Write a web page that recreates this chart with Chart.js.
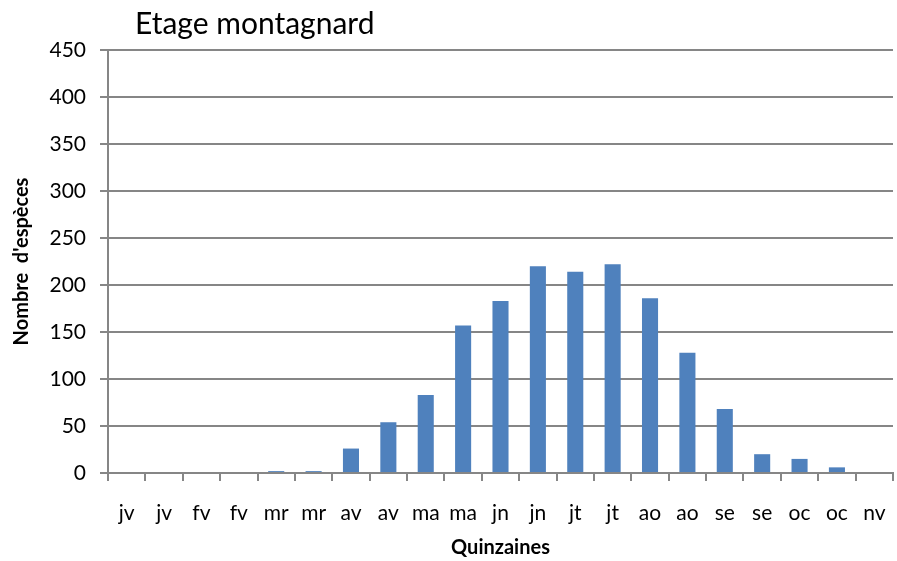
<!DOCTYPE html>
<html>
<head>
<meta charset="utf-8">
<script src="https://cdn.jsdelivr.net/npm/chart.js@4"></script>
<style>
  html, body { margin: 0; padding: 0; background: #fff; }
  #wrap { width: 897px; height: 561px; }
</style>
</head>
<body>
<div id="wrap"><canvas id="c" width="897" height="561"></canvas></div>
<script>
"use strict";

const TITLE = "Etage montagnard";
const labels = ["jv", "jv", "fv", "fv", "mr", "mr", "av", "av", "ma", "ma", "jn", "jn", "jt", "jt", "ao", "ao", "se", "se", "oc", "oc", "nv"];
const especes = [0, 0, 0, 0, 2, 2, 26, 54, 83, 157, 183, 220, 214, 222, 186, 128, 68, 20, 15, 6, 0];
const yTicks = [0, 50, 100, 150, 200, 250, 300, 350, 400, 450];

const FONT = "Lato, 'Open Sans', sans-serif";
const GRID = "#868686";

// title is drawn by hand so it can sit left of centre like the original
const titlePlugin = {
  id: "leftTitle",
  afterDraw(chart) {
    const ctx = chart.ctx;
    ctx.save();
    ctx.fillStyle = "#000";
    ctx.font = "30px " + FONT;
    ctx.textBaseline = "middle";
    ctx.fillText(TITLE, chart.chartArea.left + 27, 24);
    ctx.restore();
  },
};

new Chart(document.getElementById("c"), {
  type: "bar",
  data: {
    labels,
    datasets: [{
      data: especes,
      backgroundColor: "#4F81BD",
      barPercentage: 0.86,
      categoryPercentage: 0.5,
    }],
  },
  options: {
    responsive: false,
    animation: false,
    layout: { padding: { top: 50, right: 4, left: 0, bottom: 0 } },
    plugins: { legend: { display: false }, tooltip: { enabled: false } },
    scales: {
      x: {
        offset: true,
        afterFit: (axis) => { axis.height = 88; axis.paddingLeft = 0; axis.paddingRight = 0; },
        grid: { offset: true, drawOnChartArea: false, drawTicks: true, tickLength: 8, color: GRID, lineWidth: 2 },
        border: { color: GRID, width: 2 },
        ticks: { color: "#000", font: { family: FONT, size: 21, lineHeight: 1 }, padding: 22, maxRotation: 0, autoSkip: false },
        title: { display: true, text: "Quinzaines", color: "#000", font: { family: FONT, size: 20, weight: "bold", lineHeight: 1 }, padding: { top: 0, bottom: 3 } },
      },
      y: {
        min: 0,
        max: 450,
        afterFit: (axis) => { axis.width = 108; },
        afterBuildTicks: (axis) => { axis.ticks = yTicks.map((v) => ({ value: v })); },
        grid: { color: GRID, lineWidth: 2, tickLength: 8 },
        border: { color: GRID, width: 2 },
        ticks: { color: "#000", font: { family: FONT, size: 21 }, padding: 14 },
        title: { display: true, text: "Nombre  d'espèces", color: "#000", font: { family: FONT, size: 20, weight: "bold", lineHeight: 1 }, padding: { top: 12, bottom: 0 } },
      },
    },
  },
  plugins: [titlePlugin],
});
</script>
</body>
</html>
